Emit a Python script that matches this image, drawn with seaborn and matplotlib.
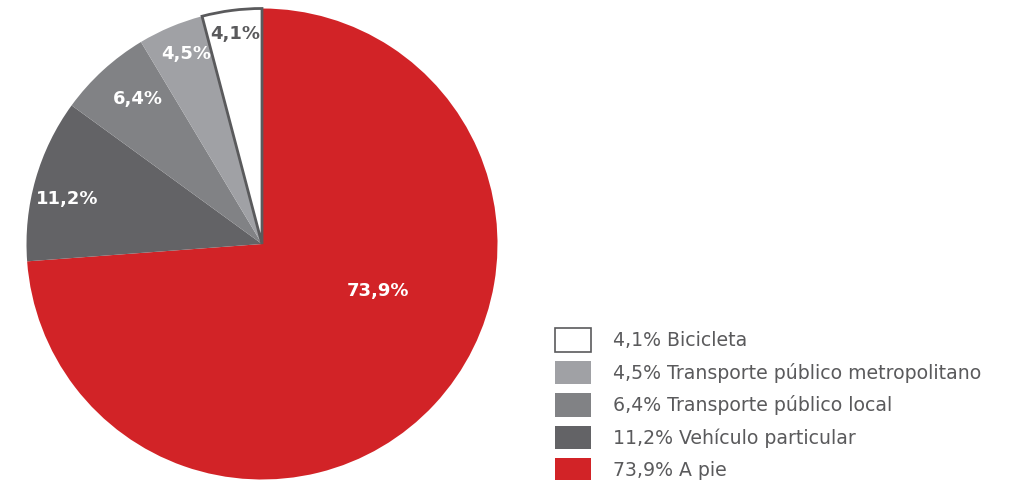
import matplotlib
matplotlib.use("Agg")
import matplotlib.pyplot as plt
import matplotlib.patches as mpatches
import numpy as np
import seaborn as sns

# Reparto modal de los desplazamientos
categorias = ["A pie", "Vehículo particular", "Transporte público local",
              "Transporte público metropolitano", "Bicicleta"]
porcentajes = [73.9, 11.2, 6.4, 4.5, 4.1]
colores = ["#d22327", "#636366", "#818285", "#a0a1a5", "#ffffff"]
color_texto = ["white", "white", "white", "white", "#5a5a5c"]

sns.set_theme(style="white")
plt.rcParams["font.family"] = ["DejaVu Sans"]

fig = plt.figure(figsize=(10.18, 4.8), dpi=100)
W, H = 1018, 480
R = 235.5
cx, cy = 262, 480 - 244
ax = fig.add_axes([(cx - R) / W, (cy - R) / H, 2 * R / W, 2 * R / H])

def fmt(v):
    return f"{v:.1f}".replace(".", ",") + "%"

wedges, texts = ax.pie(
    porcentajes, colors=colores, startangle=90, counterclock=False,
    radius=1.0, wedgeprops=dict(linewidth=0),
)
# contorno del sector blanco
wedges[-1].set_edgecolor("#5a5a5c")
wedges[-1].set_linewidth(2)

dist = [0.53, 0.85, 0.81, 0.87, 0.9]
offset = [21, 3, -2, -1, 0]
for w, v, d, off, tc in zip(wedges, porcentajes, dist, offset, color_texto):
    ang = np.deg2rad((w.theta1 + w.theta2) / 2 + off)
    ax.text(d * np.cos(ang), d * np.sin(ang), fmt(v), ha="center", va="center",
            fontsize=13, fontweight="bold", color=tc)

ax.set_xlim(-1, 1)
ax.set_ylim(-1, 1)
ax.set_aspect("equal")
ax.axis("off")

orden = [4, 3, 2, 1, 0]
handles = [mpatches.Patch(facecolor=colores[i],
                          edgecolor="#5a5a5c" if colores[i] == "#ffffff" else colores[i],
                          linewidth=1.2 if colores[i] == "#ffffff" else 0)
           for i in orden]
labels = [f"{fmt(porcentajes[i])} {categorias[i]}" for i in orden]
leg = fig.legend(handles, labels, loc="upper left",
                 bbox_to_anchor=(555 / W, 1 - 328 / H), frameon=False,
                 fontsize=13.6, handlelength=1.9, handleheight=1.55,
                 handletextpad=1.15, labelspacing=0.47, borderpad=0, borderaxespad=0)
for t in leg.get_texts():
    t.set_color("#5a5a5c")

fig.savefig("out.png", dpi=100, facecolor="white")
